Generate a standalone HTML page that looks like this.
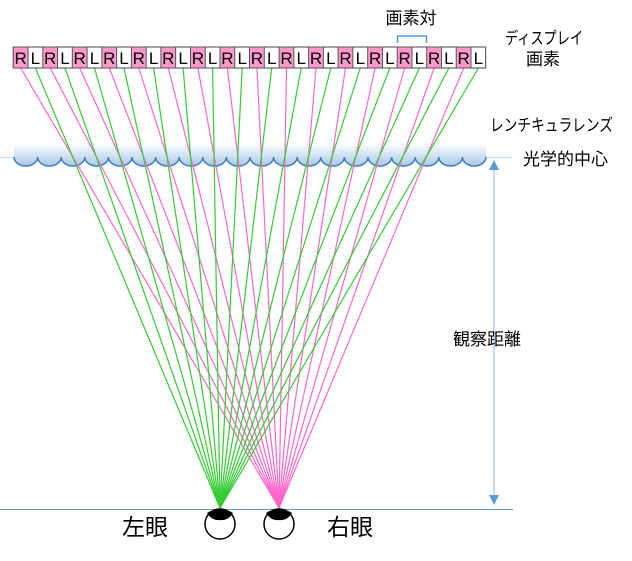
<!DOCTYPE html>
<html><head><meta charset="utf-8"><style>
body{margin:0;background:#fff;width:632px;height:556px;overflow:hidden}
text{font-family:"Liberation Sans","Noto Sans CJK JP",sans-serif;fill:#000}
</style></head><body>
<svg width="632" height="556" viewBox="0 0 632 556" xmlns="http://www.w3.org/2000/svg">
<defs>
<linearGradient id="g" x1="0" y1="0" x2="0" y2="1">
<stop offset="0" stop-color="#ffffff"/><stop offset="1" stop-color="#a9c8e8"/>
</linearGradient>
</defs>
<line x1="0" y1="157.5" x2="512" y2="157.5" stroke="#c9dcef" stroke-width="1.5"/>
<path d="M14,143 L486,143 L486,157 a11.8,9 0 0 1 -23.6,0 a11.8,9 0 0 1 -23.6,0 a11.8,9 0 0 1 -23.6,0 a11.8,9 0 0 1 -23.6,0 a11.8,9 0 0 1 -23.6,0 a11.8,9 0 0 1 -23.6,0 a11.8,9 0 0 1 -23.6,0 a11.8,9 0 0 1 -23.6,0 a11.8,9 0 0 1 -23.6,0 a11.8,9 0 0 1 -23.6,0 a11.8,9 0 0 1 -23.6,0 a11.8,9 0 0 1 -23.6,0 a11.8,9 0 0 1 -23.6,0 a11.8,9 0 0 1 -23.6,0 a11.8,9 0 0 1 -23.6,0 a11.8,9 0 0 1 -23.6,0 a11.8,9 0 0 1 -23.6,0 a11.8,9 0 0 1 -23.6,0 a11.8,9 0 0 1 -23.6,0 a11.8,9 0 0 1 -23.6,0 Z" fill="url(#g)"/>
<path d="M14,157 a11.8,9 0 0 0 23.6,0 a11.8,9 0 0 0 23.6,0 a11.8,9 0 0 0 23.6,0 a11.8,9 0 0 0 23.6,0 a11.8,9 0 0 0 23.6,0 a11.8,9 0 0 0 23.6,0 a11.8,9 0 0 0 23.6,0 a11.8,9 0 0 0 23.6,0 a11.8,9 0 0 0 23.6,0 a11.8,9 0 0 0 23.6,0 a11.8,9 0 0 0 23.6,0 a11.8,9 0 0 0 23.6,0 a11.8,9 0 0 0 23.6,0 a11.8,9 0 0 0 23.6,0 a11.8,9 0 0 0 23.6,0 a11.8,9 0 0 0 23.6,0 a11.8,9 0 0 0 23.6,0 a11.8,9 0 0 0 23.6,0 a11.8,9 0 0 0 23.6,0 a11.8,9 0 0 0 23.6,0" fill="none" stroke="#3d7fc4" stroke-width="1.5"/>
<g stroke-width="1.2">
<line x1="20.7" y1="68" x2="279" y2="508" stroke="#ff66cc"/>
<line x1="35.4" y1="68" x2="220" y2="508" stroke="#33cc33"/>
<line x1="50.2" y1="68" x2="279" y2="508" stroke="#ff66cc"/>
<line x1="65.0" y1="68" x2="220" y2="508" stroke="#33cc33"/>
<line x1="79.7" y1="68" x2="279" y2="508" stroke="#ff66cc"/>
<line x1="94.5" y1="68" x2="220" y2="508" stroke="#33cc33"/>
<line x1="109.3" y1="68" x2="279" y2="508" stroke="#ff66cc"/>
<line x1="124.0" y1="68" x2="220" y2="508" stroke="#33cc33"/>
<line x1="138.8" y1="68" x2="279" y2="508" stroke="#ff66cc"/>
<line x1="153.6" y1="68" x2="220" y2="508" stroke="#33cc33"/>
<line x1="168.3" y1="68" x2="279" y2="508" stroke="#ff66cc"/>
<line x1="183.1" y1="68" x2="220" y2="508" stroke="#33cc33"/>
<line x1="197.9" y1="68" x2="279" y2="508" stroke="#ff66cc"/>
<line x1="212.6" y1="68" x2="220" y2="508" stroke="#33cc33"/>
<line x1="227.4" y1="68" x2="279" y2="508" stroke="#ff66cc"/>
<line x1="242.2" y1="68" x2="220" y2="508" stroke="#33cc33"/>
<line x1="256.9" y1="68" x2="279" y2="508" stroke="#ff66cc"/>
<line x1="271.7" y1="68" x2="220" y2="508" stroke="#33cc33"/>
<line x1="286.5" y1="68" x2="279" y2="508" stroke="#ff66cc"/>
<line x1="301.2" y1="68" x2="220" y2="508" stroke="#33cc33"/>
<line x1="316.0" y1="68" x2="279" y2="508" stroke="#ff66cc"/>
<line x1="330.8" y1="68" x2="220" y2="508" stroke="#33cc33"/>
<line x1="345.5" y1="68" x2="279" y2="508" stroke="#ff66cc"/>
<line x1="360.3" y1="68" x2="220" y2="508" stroke="#33cc33"/>
<line x1="375.1" y1="68" x2="279" y2="508" stroke="#ff66cc"/>
<line x1="389.8" y1="68" x2="220" y2="508" stroke="#33cc33"/>
<line x1="404.6" y1="68" x2="279" y2="508" stroke="#ff66cc"/>
<line x1="419.4" y1="68" x2="220" y2="508" stroke="#33cc33"/>
<line x1="434.1" y1="68" x2="279" y2="508" stroke="#ff66cc"/>
<line x1="448.9" y1="68" x2="220" y2="508" stroke="#33cc33"/>
<line x1="463.7" y1="68" x2="279" y2="508" stroke="#ff66cc"/>
<line x1="478.4" y1="68" x2="220" y2="508" stroke="#33cc33"/>
</g>
<rect x="13.3" y="47" width="472.4" height="21" fill="#fff" stroke="#444" stroke-width="1"/>
<g fill="#ff99cc" stroke="#555" stroke-width="1">
<rect x="13.3" y="47" width="14.76" height="21"/>
<rect x="42.8" y="47" width="14.76" height="21"/>
<rect x="72.3" y="47" width="14.76" height="21"/>
<rect x="101.9" y="47" width="14.76" height="21"/>
<rect x="131.4" y="47" width="14.76" height="21"/>
<rect x="160.9" y="47" width="14.76" height="21"/>
<rect x="190.5" y="47" width="14.76" height="21"/>
<rect x="220.0" y="47" width="14.76" height="21"/>
<rect x="249.5" y="47" width="14.76" height="21"/>
<rect x="279.1" y="47" width="14.76" height="21"/>
<rect x="308.6" y="47" width="14.76" height="21"/>
<rect x="338.1" y="47" width="14.76" height="21"/>
<rect x="367.7" y="47" width="14.76" height="21"/>
<rect x="397.2" y="47" width="14.76" height="21"/>
<rect x="426.7" y="47" width="14.76" height="21"/>
<rect x="456.2" y="47" width="14.76" height="21"/>
</g>
<g font-size="17" text-anchor="middle">
<text x="20.7" y="64">R</text><text x="35.4" y="64">L</text>
<text x="50.2" y="64">R</text><text x="65.0" y="64">L</text>
<text x="79.7" y="64">R</text><text x="94.5" y="64">L</text>
<text x="109.3" y="64">R</text><text x="124.0" y="64">L</text>
<text x="138.8" y="64">R</text><text x="153.6" y="64">L</text>
<text x="168.3" y="64">R</text><text x="183.1" y="64">L</text>
<text x="197.9" y="64">R</text><text x="212.6" y="64">L</text>
<text x="227.4" y="64">R</text><text x="242.2" y="64">L</text>
<text x="256.9" y="64">R</text><text x="271.7" y="64">L</text>
<text x="286.5" y="64">R</text><text x="301.2" y="64">L</text>
<text x="316.0" y="64">R</text><text x="330.8" y="64">L</text>
<text x="345.5" y="64">R</text><text x="360.3" y="64">L</text>
<text x="375.1" y="64">R</text><text x="389.8" y="64">L</text>
<text x="404.6" y="64">R</text><text x="419.4" y="64">L</text>
<text x="434.1" y="64">R</text><text x="448.9" y="64">L</text>
<text x="463.7" y="64">R</text><text x="478.4" y="64">L</text>
</g>
<path d="M397.5,43 V36 H426.5 V43" fill="none" stroke="#5b9bd5" stroke-width="1.5"/>
<line x1="0" y1="509.5" x2="513" y2="509.5" stroke="#6a9bc8" stroke-width="1"/>
<line x1="494" y1="168" x2="494" y2="497" stroke="#8ab6e0" stroke-width="1"/>
<path d="M494,160 L489,170 L499,170 Z" fill="#5b9bd5"/>
<path d="M494,505 L489,495 L499,495 Z" fill="#5b9bd5"/>
<circle cx="220" cy="524" r="15" fill="#fff" stroke="#000" stroke-width="1.5"/>
<path d="M207,513 Q220,505 233,513 Q228,521 220,520 Q212,521 207,513 Z" fill="#000"/>
<circle cx="279" cy="524" r="15" fill="#fff" stroke="#000" stroke-width="1.5"/>
<path d="M266,513 Q279,505 292,513 Q287,521 279,520 Q271,521 266,513 Z" fill="#000"/>
<text x="411" y="24" font-size="17" text-anchor="middle">画素対</text>
<text x="505" y="44" font-size="17" textLength="78" lengthAdjust="spacingAndGlyphs">ディスプレイ</text>
<text x="526" y="65" font-size="17">画素</text>
<text x="490" y="131" font-size="17" textLength="123" lengthAdjust="spacingAndGlyphs">レンチキュラレンズ</text>
<text x="523" y="165" font-size="17">光学的中心</text>
<text x="453" y="345" font-size="17">観察距離</text>
<text x="122" y="535" font-size="23">左眼</text>
<text x="327" y="535" font-size="23">右眼</text>
</svg>
</body></html>
